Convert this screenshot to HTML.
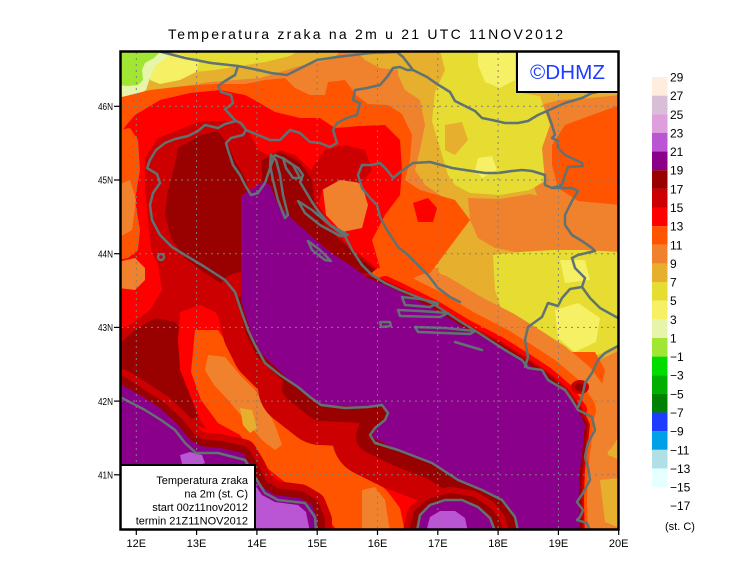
<!DOCTYPE html>
<html><head><meta charset="utf-8"><style>
html,body{margin:0;padding:0;background:#fff;}
svg{display:block;}
text{font-family:"Liberation Sans",sans-serif;fill:#000;}
</style></head><body>
<svg width="740" height="582" viewBox="0 0 740 582" xmlns="http://www.w3.org/2000/svg">
<defs><clipPath id="c"><rect x="120.5" y="51.5" width="498" height="478"/></clipPath></defs>
<rect width="740" height="582" fill="#fff"/>
<g clip-path="url(#c)">
<rect x="118" y="48" width="505" height="486" fill="#F0822E"/>
<!-- NE -->
<polygon fill="#E6AF2E" points="398,50 620,50 620,95 590,98 560,100 540,105 535,130 538,160 535,190 545,215 548,250 570,252 590,252 620,252 620,350 600,360 585,362 570,355 555,350 540,345 520,335 495,325 470,310 455,300 445,280 430,260 420,240 440,235 455,225 450,210 440,195 425,185 415,170 420,150 425,125 420,100 405,90 398,75"/>
<polygon fill="#E6AF2E" points="355,50 400,50 400,70 380,68 365,60"/>
<polygon fill="#E6DC32" points="440,50 516,50 516,92 540,96 550,125 542,148 545,181 530,190 500,195 470,193 455,185 448,175 440,148 432,121 435,92 445,70"/>
<polygon fill="#E6AF2E" points="445,125 462,122 468,140 455,155 445,150"/>
<polygon fill="#F5F064" points="478,50 515,50 515,80 500,88 485,82 478,65"/>
<polygon fill="#F5F064" points="478,158 492,156 497,170 482,178 475,170"/>
<polygon fill="#F0822E" points="468,198 500,199 530,194 548,198 560,205 562,250 540,256 515,252 495,248 478,238 470,220"/>
<polygon fill="#E6DC32" points="493,255 520,252 552,250 585,250 620,252 620,345 605,352 592,357 575,357 560,350 540,342 522,333 508,322 500,305 495,290"/>
<polygon fill="#F5F064" points="560,260 585,260 590,280 565,283"/>
<polygon fill="#F5F064" points="555,310 578,303 600,318 596,342 575,352 558,338"/>
<polygon fill="#FF5500" points="552,145 565,125 592,115 620,105 620,205 578,201 558,188 552,165"/>
<polygon fill="#FF5500" points="555,352 595,352 605,370 600,395 590,405 575,400 560,385"/>
<polygon fill="#E6AF2E" points="604,420 620,415 620,460 608,455"/>
<polygon fill="#E6AF2E" points="600,480 620,478 620,528 605,522"/>
<!-- NW top -->
<polygon fill="#E6AF2E" points="118,50 340,50 335,58 318,62 300,66 280,72 260,78 235,80 210,82 185,86 160,90 140,96 118,100"/>
<polygon fill="#E6DC32" points="140,50 300,50 290,56 265,62 240,66 215,70 195,72 170,76 150,78"/>
<polygon fill="#F5F064" points="150,56 178,54 200,60 196,72 180,80 160,84 150,80"/>
<polygon fill="#E6F5AA" points="118,50 172,50 166,58 155,66 150,78 146,90 135,96 118,97"/>
<polygon fill="#A0E632" points="118,50 162,50 154,58 145,63 142,70 143,80 138,85 128,86 118,85"/>
<!-- NW orange-red / red -->
<polygon fill="#FF5500" points="118,98 150,90 185,86 215,84 245,84 265,80 285,78 295,88 310,95 325,95 328,82 345,80 356,95 368,104 388,105 402,114 412,135 410,160 405,180 420,190 455,200 470,220 455,240 440,260 425,280 400,295 241,305 118,305"/>
<polygon fill="#FF0000" points="118,135 135,115 160,100 190,93 220,90 245,95 258,102 275,112 300,118 320,118 335,128 360,126 385,125 400,140 402,170 400,195 385,215 372,240 385,285 520,532 118,532"/>
<polygon fill="#FF5500" points="118,130 130,128 138,140 140,170 135,200 140,230 138,250 128,258 118,260"/>
<polygon fill="#F0822E" points="118,185 130,180 136,200 132,230 118,238"/>
<polygon fill="#F0822E" points="118,262 135,258 145,268 145,280 135,290 118,288"/>
<polygon fill="#F0822E" points="322,182 345,176 362,185 368,205 362,228 342,232 326,215"/>
<polygon fill="#FF0000" points="413,203 428,198 437,208 433,222 418,222"/>
<!-- CC / dark red -->
<polygon fill="#CC0000" points="145,158 158,138 201,121 235,121 251,135 258,150 268,155 280,150 295,155 311,170 325,150 345,145 365,150 372,170 362,183 340,180 322,190 318,205 335,231 351,248 368,261 385,275 395,290 300,400 240,440 118,400 118,330 130,325 150,310 162,290 158,265 151,250 148,220 145,190"/>
<polygon fill="#990000" points="178,148 201,135 218,131 228,145 235,161 245,178 250,192 241,210 241,292 225,286 205,273 185,258 172,240 165,215 168,190 175,165"/>
<polygon fill="#990000" points="118,345 135,330 155,318 175,322 185,335 183,360 190,390 200,415 190,420 170,412 150,400 130,392 118,385"/>
<polygon fill="#990000" points="262,160 280,152 300,162 312,180 315,205 325,225 340,240 360,258 378,272 360,274 340,264 318,250 298,232 283,214 272,196 262,180"/>
<!-- Italy core -->
<polygon fill="#FF0000" points="180,312 200,305 215,312 230,330 245,350 262,365 280,378 300,393 340,410 370,420 380,445 400,460 420,480 440,500 450,532 318,532 305,512 285,500 265,490 252,470 235,452 215,440 200,420 190,395 180,370 178,340"/>
<polygon fill="#FF5500" points="195,330 218,330 235,355 258,372 272,388 290,398 302,415 318,430 335,442 355,460 372,476 388,492 400,508 405,532 338,532 325,515 310,500 290,486 272,472 258,460 240,435 218,423 201,400 191,372"/>
<polygon fill="#F0822E" points="208,355 225,357 240,375 255,390 265,405 275,425 282,445 275,450 262,440 245,420 228,400 214,385 205,370"/>
<polygon fill="#F0822E" points="362,490 375,487 385,500 390,532 362,532"/>
<polygon fill="#E6AF2E" points="240,408 252,410 257,428 250,433 243,425"/>
<!-- coastal bands -->
<g fill="none" stroke-linejoin="round" stroke-linecap="round">
<path d="M121,383 L140,395 160,408 178,425 190,440 200,446 220,448 243,453 252,468 260,485 275,495 300,498 312,505 318,520 318,535" stroke="#CC0000" stroke-width="28"/>
<path d="M121,383 L140,395 160,408 178,425 190,440 200,446 220,448 243,453 252,468 260,485 275,495 300,498 312,505 318,520 318,535" stroke="#990000" stroke-width="14"/>
<path d="M243,300 L251,333 261,353 275,367 298,387 321,405" stroke="#CC0000" stroke-width="56"/>
<path d="M298,387 L321,405 365,407 382,405 388,413 385,420 375,428 372,437 398,450 432,463 465,483 498,497 512,510 518,535" stroke="#CC0000" stroke-width="80"/>
<path d="M243,300 L251,333 261,353 275,367 298,387 321,405" stroke="#990000" stroke-width="10"/>
<path d="M298,387 L321,405 365,407 382,405 388,413 385,420 375,428 372,437 398,450 432,463 465,483 498,497 512,510 518,535" stroke="#990000" stroke-width="32"/>
<path d="M432,308 L465,328 498,345 522,360 545,375 565,392 578,410 585,425" stroke="#F0822E" stroke-width="70"/>
<path d="M385,285 L400,292 432,308 465,328 498,345 522,360 545,375 565,392 578,410" stroke="#FF5500" stroke-width="36"/>
<path d="M578,410 L585,425 583,445 580,470 579,500 580,535" stroke="#FF5500" stroke-width="16"/>
<path d="M385,285 L400,292 432,308 465,328 498,345 522,360 545,375 565,392 578,410" stroke="#FF0000" stroke-width="18"/>
<path d="M578,410 L585,425 583,445 580,470 579,500 580,535" stroke="#FF0000" stroke-width="10"/>
<path d="M368,278 L385,285 400,292 432,308 465,328 498,345 522,360 545,375 565,392 578,410 585,425 583,445 580,470 579,500 580,535" stroke="#CC0000" stroke-width="9"/>
<path d="M368,278 L385,285 400,292 432,308 465,328 498,345 522,360 545,375 565,392 578,410 585,425 583,445 580,470 579,500 580,535" stroke="#990000" stroke-width="5"/>
</g>
<ellipse cx="580" cy="387" rx="9" ry="7" fill="#CC0000"/>
<ellipse cx="580" cy="387" rx="5" ry="4" fill="#990000"/>
<polygon fill="#990000" points="478,505 498,497 512,510 518,532 496,532 490,515"/>
<polygon fill="#CC0000" stroke="#CC0000" stroke-width="26" stroke-linejoin="round" points="416,532 420,515 432,505 450,500 470,503 485,512 493,522 496,532"/>
<polygon fill="#990000" stroke="#990000" stroke-width="14" stroke-linejoin="round" points="416,532 420,515 432,505 450,500 470,503 485,512 493,522 496,532"/>
<!-- seas -->
<polygon fill="#8B008B" points="241,196 250,190 262,182 270,185 278,205 291,218 310,235 330,252 350,265 368,278 385,285 400,292 432,308 465,328 498,345 522,360 545,375 565,392 578,410 585,425 583,445 580,470 579,500 580,532 518,532 512,510 498,497 465,483 432,463 398,450 372,437 375,430 385,420 388,413 382,405 365,407 321,405 298,387 275,367 261,353 251,333 241,300"/>
<polygon fill="#8B008B" points="118,383 140,395 160,408 178,425 190,440 200,446 220,448 243,453 252,468 260,485 275,495 300,498 312,505 318,520 318,532 118,532"/>
<polygon fill="#8B008B" points="416,532 420,515 432,505 450,500 470,503 485,512 493,522 496,532"/>
<polygon fill="#BA55D3" points="180,455 190,452 202,455 205,463 195,467 182,464"/>
<polygon fill="#BA55D3" points="255,485 262,495 275,502 298,505 306,512 310,532 255,532"/>
<polygon fill="#BA55D3" points="426,532 430,517 440,511 455,511 465,518 468,532"/>
<!-- coastlines / borders -->
<g fill="none" stroke="#607272" stroke-width="2.5" stroke-linejoin="round" stroke-linecap="round">
<polyline points="158,51 185,58 211,63 238,66 258,70 271,73 287,75 303,67 317,60 337,57 370,53 397,52 403,57 413,70 427,77 437,84 450,92 455,101 465,106 475,111 482,118 492,120 505,123 518,123 528,121 538,115 547,111 565,103 582,98 592,93 618,88"/>
<polyline points="238,66 235,75 225,81 218,86 221,92 231,95 233,103 228,107 225,109 233,118 236,121"/>
<polyline points="246,130 258,135 270,140 280,140 290,130 300,133 310,142 320,143 330,147 337,143 333,130 337,123 347,118 357,115 360,103 353,100 355,90 367,88 380,85 387,77 393,68 400,67 407,70 413,70"/>
<polyline points="362,165 372,165 380,163 387,170 393,178 403,170 413,163 430,162 445,166 452,168 465,170 485,173 498,173 512,171 522,170 532,171 545,175 545,185 552,188 572,188"/>
<polyline points="362,165 358,175 362,188 370,198 377,205 380,217 387,230 398,247 408,255 418,265 428,275 438,288 450,297 460,302"/>
<polyline points="547,111 552,125 555,135 552,138 558,141 558,148 565,155 582,163 583,166 568,167 565,175 562,185 552,188"/>
<polyline points="572,188 578,191 572,201 565,215 565,225 572,235 582,241 592,248 595,251 578,255 572,258 575,268 585,278 582,287 590,298 600,308 618,318"/>
<polyline points="582,287 570,289 562,298 558,306 548,303 542,317 528,327 525,340 528,357 525,367"/>
<polyline points="618,346 605,353 598,360 592,373 585,383 582,397 578,407"/>
<polyline points="236,121 241,123 246,130 243,135 231,138 226,143 228,150 233,165 240,175 245,185 251,195 258,193 265,183 270,168 275,155 282,158 290,163 298,168 303,175 300,182 306,192 312,202 318,211 331,226 345,236 352,250 362,265 372,275 385,283 400,290 420,298 432,303 458,320 485,337 505,350 522,360 528,368 542,370 548,380 565,390 572,400 578,410 592,417 595,430 588,443 585,457 588,467 590,480 583,493 577,502 583,510 580,517 577,520 587,523 590,531"/>
<polygon points="271,155 276,160 280,175 283,195 288,215 285,218 278,200 273,180 270,165"/>
<polygon points="283,158 293,165 300,178 293,178 286,168"/>
<polygon points="298,201 312,210 330,225 348,235 340,236 320,225 305,213"/>
<polygon points="308,241 320,250 331,261 325,260 312,250"/>
<polygon points="402,297 420,299 438,303 430,307 405,305"/>
<polygon points="398,310 420,311 448,313 440,317 400,316"/>
<polygon points="415,327 445,328 475,331 470,334 418,332"/>
<polyline points="455,342 482,350"/>
<polygon points="380,322 390,322 391,326 381,327"/>
<polyline points="236,121 225,124 218,128 205,125 198,131 188,136 175,139 165,143 156,150 150,160 147,168 157,174 160,183 153,193 150,205 152,220 160,235 172,247 185,255 205,267 225,280 235,292 241,310 248,330 255,345 265,363 280,375 298,387 310,397 321,405 345,408 368,407 382,405 388,413 385,420 375,428 370,435 375,443 398,450 432,463 458,480 482,490 502,500 515,517 518,531"/>
<circle cx="161" cy="257" r="3"/>
<polyline points="495,531 490,518 478,507 462,500 445,500 430,505 420,515 417,531"/>
<polyline points="120,397 145,410 161,420 175,430 185,443 196,453 218,453 245,460 255,477 265,493 278,500 305,503 315,517 316,531"/>
</g>
<!-- grid -->
<g stroke="#808080" stroke-width="1" stroke-dasharray="2 4">
<line x1="136.3" y1="52" x2="136.3" y2="529"/><line x1="196.6" y1="52" x2="196.6" y2="529"/>
<line x1="256.9" y1="52" x2="256.9" y2="529"/><line x1="317.2" y1="52" x2="317.2" y2="529"/>
<line x1="377.5" y1="52" x2="377.5" y2="529"/><line x1="437.8" y1="52" x2="437.8" y2="529"/>
<line x1="498.1" y1="52" x2="498.1" y2="529"/><line x1="558.4" y1="52" x2="558.4" y2="529"/>
<line x1="121" y1="106.3" x2="618" y2="106.3"/><line x1="121" y1="180" x2="618" y2="180"/>
<line x1="121" y1="253.7" x2="618" y2="253.7"/><line x1="121" y1="327.4" x2="618" y2="327.4"/>
<line x1="121" y1="401.1" x2="618" y2="401.1"/><line x1="121" y1="474.8" x2="618" y2="474.8"/>
</g>
</g>
<!-- boxes -->
<rect x="517" y="51.5" width="101.5" height="40.5" fill="#fff" stroke="#000" stroke-width="2"/>
<text x="530" y="79" font-size="20" style="fill:#1E3CFF" textLength="75" lengthAdjust="spacingAndGlyphs">©DHMZ</text>
<rect x="120.5" y="465" width="134.5" height="64.5" fill="#fff" stroke="#000" stroke-width="2"/>
<g font-size="11" text-anchor="end">
<text x="248" y="484">Temperatura zraka</text>
<text x="248" y="497.5">na 2m (st. C)</text>
<text x="248" y="511">start 00z11nov2012</text>
<text x="248" y="524.5">termin 21Z11NOV2012</text>
</g>
<!-- frame -->
<rect x="120.5" y="51.5" width="498" height="478" fill="none" stroke="#000" stroke-width="2.5"/>
<!-- ticks -->
<g stroke="#000" stroke-width="1.2">
<line x1="114" y1="106.3" x2="120" y2="106.3"/><line x1="114" y1="180" x2="120" y2="180"/>
<line x1="114" y1="253.7" x2="120" y2="253.7"/><line x1="114" y1="327.4" x2="120" y2="327.4"/>
<line x1="114" y1="401.1" x2="120" y2="401.1"/><line x1="114" y1="474.8" x2="120" y2="474.8"/>
<line x1="136.3" y1="530" x2="136.3" y2="535"/><line x1="196.6" y1="530" x2="196.6" y2="535"/>
<line x1="256.9" y1="530" x2="256.9" y2="535"/><line x1="317.2" y1="530" x2="317.2" y2="535"/>
<line x1="377.5" y1="530" x2="377.5" y2="535"/><line x1="437.8" y1="530" x2="437.8" y2="535"/>
<line x1="498.1" y1="530" x2="498.1" y2="535"/><line x1="558.4" y1="530" x2="558.4" y2="535"/>
<line x1="618.7" y1="530" x2="618.7" y2="535"/>
</g>
<g font-size="10" text-anchor="end">
<text x="113" y="110" textLength="15" lengthAdjust="spacingAndGlyphs">46N</text>
<text x="113" y="183.7" textLength="15" lengthAdjust="spacingAndGlyphs">45N</text>
<text x="113" y="257.4" textLength="15" lengthAdjust="spacingAndGlyphs">44N</text>
<text x="113" y="331.1" textLength="15" lengthAdjust="spacingAndGlyphs">43N</text>
<text x="113" y="404.8" textLength="15" lengthAdjust="spacingAndGlyphs">42N</text>
<text x="113" y="478.5" textLength="15" lengthAdjust="spacingAndGlyphs">41N</text>
</g>
<g font-size="11" text-anchor="middle">
<text x="136.3" y="547">12E</text><text x="196.6" y="547">13E</text><text x="256.9" y="547">14E</text>
<text x="317.2" y="547">15E</text><text x="377.5" y="547">16E</text><text x="437.8" y="547">17E</text>
<text x="498.1" y="547">18E</text><text x="558.4" y="547">19E</text><text x="618.7" y="547">20E</text>
</g>
<!-- title -->
<text x="168" y="39" font-size="14" textLength="395" lengthAdjust="spacing">Temperatura zraka na 2m u 21 UTC 11NOV2012</text>
<!-- colorbar -->
<g>
<rect x="652" y="77" width="15.5" height="18.7" fill="#FFEEDD"/>
<rect x="652" y="95.64" width="15.5" height="18.7" fill="#D8BFD8"/>
<rect x="652" y="114.28" width="15.5" height="18.7" fill="#DDA0DD"/>
<rect x="652" y="132.92" width="15.5" height="18.7" fill="#BA55D3"/>
<rect x="652" y="151.56" width="15.5" height="18.7" fill="#8B008B"/>
<rect x="652" y="170.2" width="15.5" height="18.7" fill="#990000"/>
<rect x="652" y="188.84" width="15.5" height="18.7" fill="#CC0000"/>
<rect x="652" y="207.48" width="15.5" height="18.7" fill="#FF0000"/>
<rect x="652" y="226.12" width="15.5" height="18.7" fill="#FF5500"/>
<rect x="652" y="244.76" width="15.5" height="18.7" fill="#F0822E"/>
<rect x="652" y="263.4" width="15.5" height="18.7" fill="#E6AF2E"/>
<rect x="652" y="282.04" width="15.5" height="18.7" fill="#E6DC32"/>
<rect x="652" y="300.68" width="15.5" height="18.7" fill="#F5F064"/>
<rect x="652" y="319.32" width="15.5" height="18.7" fill="#E6F5AA"/>
<rect x="652" y="337.96" width="15.5" height="18.7" fill="#A0E632"/>
<rect x="652" y="356.6" width="15.5" height="18.7" fill="#00DC00"/>
<rect x="652" y="375.24" width="15.5" height="18.7" fill="#00AF00"/>
<rect x="652" y="393.88" width="15.5" height="18.7" fill="#008200"/>
<rect x="652" y="412.52" width="15.5" height="18.7" fill="#1E3CFF"/>
<rect x="652" y="431.16" width="15.5" height="18.7" fill="#00A0E6"/>
<rect x="652" y="449.8" width="15.5" height="18.7" fill="#B0E0E6"/>
<rect x="652" y="468.44" width="15.5" height="18.64" fill="#E6FFFF"/>
</g>
<g font-size="12">
<text x="670" y="81.5">29</text>
<text x="670" y="100.1">27</text>
<text x="670" y="118.8">25</text>
<text x="670" y="137.4">23</text>
<text x="670" y="156.1">21</text>
<text x="670" y="174.7">19</text>
<text x="670" y="193.3">17</text>
<text x="670" y="212">15</text>
<text x="670" y="230.6">13</text>
<text x="670" y="249.3">11</text>
<text x="670" y="267.9">9</text>
<text x="670" y="286.5">7</text>
<text x="670" y="305.2">5</text>
<text x="670" y="323.8">3</text>
<text x="670" y="342.5">1</text>
<text x="670" y="361.1">−1</text>
<text x="670" y="379.7">−3</text>
<text x="670" y="398.4">−5</text>
<text x="670" y="417">−7</text>
<text x="670" y="435.7">−9</text>
<text x="670" y="454.3">−11</text>
<text x="670" y="472.9">−13</text>
<text x="670" y="491.6">−15</text>
<text x="670" y="510.2">−17</text>
</g>
<text x="665" y="530" font-size="11">(st. C)</text>
</svg>
</body></html>
